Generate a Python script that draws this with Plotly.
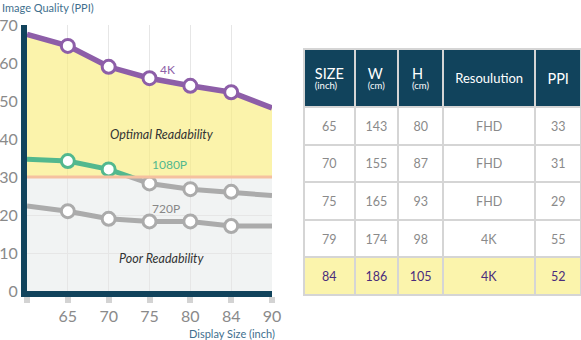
import plotly.graph_objects as go

# ---------------- data ----------------
sizes = ["", "65", "70", "75", "80", "84", "90"]
ppi_4k = [67.5, 64.5, 59, 56, 54, 52.3, 48.2]
ppi_1080 = [34.7, 34.2, 32, 28.3, 26.8, 26.1, 25.1]
ppi_720 = [22.4, 21, 19, 18.3, 18.3, 17.1, 17.1]
threshold = 30
y_max = 70

tbl_size = ["65", "70", "75", "79", "84"]
tbl_w = ["143", "155", "165", "174", "186"]
tbl_h = ["80", "87", "93", "98", "105"]
tbl_res = ["FHD", "FHD", "FHD", "4K", "4K"]
tbl_ppi = ["33", "31", "29", "55", "52"]
hdr_main = ["SIZE", "W", "H", "Resoulution", "PPI"]
hdr_unit = ["(inch)", "(cm)", "(cm)", "", ""]

# ---------------- layout constants ----------------
W, H = 581, 340
x_left, x_right = 27, 272
y_top_px, y_bot_px = 25, 291
xd = [x_left / W, x_right / W]
yd = [(H - y_bot_px) / H, (H - y_top_px) / H]
y2_bottom = yd[0] + (yd[1] - yd[0]) * threshold / y_max

NAVY = "#11435C"
PURPLE = "#8D5EA8"
GREEN = "#52B88E"
GREY = "#ABABAB"
TXT = "#8A8A8A"
BLUE = "#3F6F8E"
FONT = "Lato"
NB = "\u00a0"

xs = list(range(len(sizes)))

fig = go.Figure()

# 4K fill down to threshold (clipped by y2 domain)
fig.add_trace(go.Scatter(x=xs, y=ppi_4k, xaxis="x", yaxis="y2", mode="lines",
                         line=dict(color=PURPLE, width=5.5), fill="tozeroy",
                         fillcolor="rgba(249,236,120,0.62)", hoverinfo="skip"))
# 720P
fig.add_trace(go.Scatter(x=xs, y=ppi_720, mode="lines",
                         line=dict(color=GREY, width=5), hoverinfo="skip"))
fig.add_trace(go.Scatter(x=xs[1:-1], y=ppi_720[1:-1], mode="markers",
                         marker=dict(size=13, color="white", line=dict(color=GREY, width=3)),
                         hoverinfo="skip"))
# 1080P grey full line
fig.add_trace(go.Scatter(x=xs, y=ppi_1080, mode="lines",
                         line=dict(color=GREY, width=5), hoverinfo="skip"))
# 1080P green part (clipped above threshold by y2 domain)
fig.add_trace(go.Scatter(x=xs, y=ppi_1080, xaxis="x", yaxis="y2", mode="lines",
                         line=dict(color=GREEN, width=5), hoverinfo="skip"))
fig.add_trace(go.Scatter(x=xs[3:-1], y=ppi_1080[3:-1], mode="markers",
                         marker=dict(size=13, color="white", line=dict(color=GREY, width=3)),
                         hoverinfo="skip"))
fig.add_trace(go.Scatter(x=xs[1:3], y=ppi_1080[1:3], xaxis="x", yaxis="y2", mode="markers",
                         marker=dict(size=13, color="white", line=dict(color=GREEN, width=3)),
                         cliponaxis=False, hoverinfo="skip"))
fig.add_trace(go.Scatter(x=xs[1:-1], y=ppi_4k[1:-1], xaxis="x", yaxis="y2", mode="markers",
                         marker=dict(size=13, color="white", line=dict(color=PURPLE, width=3)),
                         cliponaxis=False, hoverinfo="skip"))

# table: an invisible spacer line on top of each cell centres the text vertically
hdr = []
for m, u in zip(hdr_main, hdr_unit):
    if u:
        hdr.append("<span style='font-size:11px'>%s</span><br>"
                   "<span style='font-size:14.5px'>%s</span><br>"
                   "<span style='font-size:9.5px'>%s</span>" % (NB, m, u))
    else:
        sz, sp = (14.5, 16) if len(m) < 5 else (13, 15)
        hdr.append("<span style='font-size:%spx'>%s</span><br>"
                   "<span style='font-size:%spx'>%s</span>" % (sp, NB, sz, m))

def cell(col):
    return ["%s<br><span style='font-size:12.5px'>%s</span>" % (NB, v) for v in col]

n = len(tbl_size)
fcol = [TXT] * (n - 1) + ["#4A2C7C"]
fill = ["white"] * (n - 1) + ["#FBF4AC"]
fig.add_trace(go.Table(
    domain=dict(x=[304 / W, 1.0], y=[1 - 296 / H, 1 - 49 / H]),
    columnwidth=[51, 44, 45, 93, 46],
    header=dict(values=hdr, fill_color=NAVY, line=dict(color="#D5D5D5", width=2),
                font=dict(family=FONT, size=8.2, color="white"), align="center", height=58),
    cells=dict(values=[cell(tbl_size), cell(tbl_w), cell(tbl_h), cell(tbl_res), cell(tbl_ppi)],
               fill_color=[fill] * 5, line=dict(color="#D5D5D5", width=2),
               font=dict(family=FONT, size=6.7, color=[fcol] * 5), align="center", height=37.6),
))

fig.update_layout(
    width=W, height=H, autosize=False,
    margin=dict(l=0, r=0, t=0, b=0, pad=0, autoexpand=False),
    paper_bgcolor="white", plot_bgcolor="white", showlegend=False,
    font=dict(family=FONT, color=TXT),
    xaxis=dict(domain=xd, range=[0, len(sizes) - 1], tickvals=xs, ticktext=sizes,
               showgrid=True, gridcolor="#E6E6E6", gridwidth=1, zeroline=False,
               showline=True, linecolor=NAVY, linewidth=6, automargin=False,
               ticks="outside", ticklen=6, tickwidth=6, tickcolor="#D3D3D3",
               tickfont=dict(size=16, color=TXT, family=FONT), fixedrange=True),
    yaxis=dict(domain=yd, range=[0, y_max], tickvals=list(range(0, y_max + 1, 10)),
               showgrid=True, gridcolor="#E6E6E6", gridwidth=1, zeroline=False,
               showline=True, linecolor=NAVY, linewidth=6, ticks="", automargin=False,
               ticklabelstandoff=0,
               tickfont=dict(size=16, color=TXT, family=FONT), fixedrange=True),
    yaxis2=dict(domain=[y2_bottom, yd[1]], range=[threshold, y_max], anchor="x",
                showgrid=False, showticklabels=False, zeroline=False, fixedrange=True,
                automargin=False),
    shapes=[
        dict(type="rect", xref="x", yref="y", x0=0, x1=len(sizes) - 1, y0=0, y1=threshold,
             fillcolor="#F1F3F3", line=dict(width=0), layer="below"),
        dict(type="line", xref="x", yref="y", x0=0, x1=len(sizes) - 1, y0=threshold, y1=threshold,
             line=dict(color="#F5C1A0", width=3), layer="above"),
    ],
    annotations=[
        dict(text="Image Quality (PPI)", xref="paper", yref="paper", x=0, y=1 - 7 / H,
             xanchor="left", yanchor="middle", showarrow=False,
             font=dict(size=11, color=BLUE, family=FONT)),
        dict(text="Display Size (inch)", xref="paper", yref="paper", x=277 / W, y=1 - 333 / H,
             xanchor="right", yanchor="middle", showarrow=False,
             font=dict(size=11, color=BLUE, family=FONT)),
        dict(text="4K", x=3.45, y=58.2, xref="x", yref="y", showarrow=False,
             font=dict(size=12, color=PURPLE, family=FONT)),
        dict(text="<i>Optimal Readability</i>", x=3.3, y=41.2, xref="x", yref="y", showarrow=False,
             font=dict(size=12.5, color="#333333", family=FONT)),
        dict(text="1080P", x=3.5, y=33.4, xref="x", yref="y", showarrow=False,
             font=dict(size=12, color=GREEN, family=FONT)),
        dict(text="720P", x=3.4, y=21.8, xref="x", yref="y", showarrow=False,
             font=dict(size=12, color="#888888", family=FONT)),
        dict(text="<i>Poor Readability</i>", x=3.3, y=8.6, xref="x", yref="y", showarrow=False,
             font=dict(size=12.5, color="#333333", family=FONT)),
    ],
)

fig.write_html("out.html")
